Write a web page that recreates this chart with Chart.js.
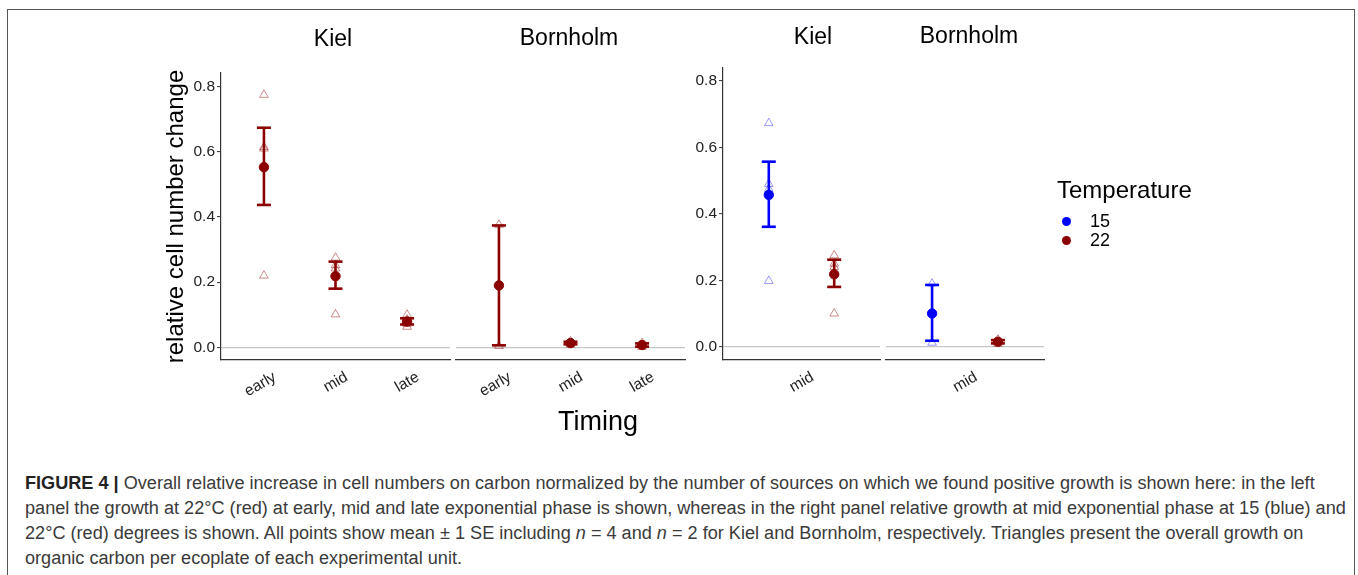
<!DOCTYPE html>
<html>
<head>
<meta charset="utf-8">
<script src="https://cdn.jsdelivr.net/npm/chart.js@4.4.1/dist/chart.umd.min.js"></script>
<style>
  body { margin: 0; background: #fff; font-family: "Liberation Sans", Arial, sans-serif; }
  #page { position: relative; width: 1358px; height: 575px; overflow: hidden; }
  #frame { position: absolute; left: 7px; top: 9px; width: 1346px; height: 620px; border: 1px solid #555; }
  canvas { position: absolute; top: 0; }
  .free { position: absolute; white-space: nowrap; color: #000; }
  .strip { font-size: 23px; line-height: 23px; transform: translate(-50%, -50%); }
  #timingTitle { left: 598px; top: 421px; font-size: 27px; transform: translate(-50%, -50%); }
  #legend { left: 1057px; top: 176px; }
  #legend .lt { font-size: 24px; line-height: 28px; margin-bottom: 8px; }
  #legend .li { position: relative; font-size: 18px; line-height: 19px; padding-left: 33px; }
  #legend .dot { position: absolute; left: 4.5px; top: 5px; width: 9px; height: 9px; border-radius: 50%; }
  .cap { position: absolute; left: 25px; font-size: 18px; line-height: 22px; color: #3a3a3a; white-space: nowrap; transform-origin: 0 50%; }
  .cap b { color: #222; }
</style>
</head>
<body>
<div id="page">
  <div id="frame"></div>
  <canvas id="kielTiming" width="315" height="410" style="left:150px"></canvas>
  <canvas id="bornTiming" width="259" height="410" style="left:441px"></canvas>
  <canvas id="kielMid" width="215" height="410" style="left:680px"></canvas>
  <canvas id="bornMid" width="188" height="410" style="left:871px"></canvas>
  <div class="free strip" style="left:333px; top:37.5px">Kiel</div>
  <div class="free strip" style="left:569px; top:36.5px">Bornholm</div>
  <div class="free strip" style="left:813px; top:36px">Kiel</div>
  <div class="free strip" style="left:969px; top:35px">Bornholm</div>
  <div class="free" id="timingTitle">Timing</div>
  <div class="free" id="legend"></div>
  <div class="cap" style="top:472px"><b>FIGURE 4 |</b> Overall relative increase in cell numbers on carbon normalized by the number of sources on which we found positive growth is shown here: in the left</div>
  <div class="cap" style="top:497px">panel the growth at 22°C (red) at early, mid and late exponential phase is shown, whereas in the right panel relative growth at mid exponential phase at 15 (blue) and</div>
  <div class="cap" style="top:522px">22°C (red) degrees is shown. All points show mean ± 1 SE including <i>n</i> = 4 and <i>n</i> = 2 for Kiel and Bornholm, respectively. Triangles present the overall growth on</div>
  <div class="cap" style="top:547px">organic carbon per ecoplate of each experimental unit.</div>
</div>
<script>
const timing = ['early', 'mid', 'late'];
const midOnly = ['mid'];
const temps = ['15', '22'];
const yTicks = [0, 0.2, 0.4, 0.6, 0.8];
const leftRange = [-0.039, 0.842];
const rightRange = [-0.040, 0.839];

// left plot: 22 °C at early / mid / late phase
const kiel22Mean = [0.553, 0.218, 0.079];
const kiel22Lo = [0.437, 0.180, 0.070];
const kiel22Hi = [0.674, 0.263, 0.089];
const kiel22Units = [[0.775, 0.615, 0.610, 0.220], [0.275, 0.252, 0.242, 0.101], [0.100, 0.085, 0.072, 0.063]];

const born22Mean = [0.190, 0.013, 0.007];
const born22Lo = [0.006, 0.009, 0.002];
const born22Hi = [0.374, 0.017, 0.012];
const born22Units = [[0.376, 0.004], [0.018, 0.008], [0.013, 0.001]];

// right plot: mid phase, one entry per temperature (15, 22)
const kielMidMean = [0.457, 0.218];
const kielMidLo = [0.361, 0.180];
const kielMidHi = [0.557, 0.262];
const kielMidUnits = [[0.673, 0.490, 0.475, 0.198], [0.275, 0.250, 0.240, 0.100]];

const bornMidMean = [0.100, 0.015];
const bornMidLo = [0.018, 0.010];
const bornMidHi = [0.186, 0.020];
const bornMidUnits = [[0.190, 0.012], [0.021, 0.009]];

const colors = { '15': '#0000ff', '22': '#8b0000' };
const faded = { '15': 'rgba(0,0,255,0.4)', '22': 'rgba(139,0,0,0.45)' };
const dodge = [-0.25, 0.25];
const font = 'Liberation Sans, Arial, sans-serif';

function groupDatasets(x, temp, mean, lo, hi, units) {
    return [
        {
            data: units.map(v => ({x: x, y: v})),
            pointStyle: 'triangle', pointRadius: 5,
            borderColor: faded[temp], backgroundColor: 'rgba(0,0,0,0)', borderWidth: 1,
            order: 3
        },
        {
            data: [{x: x, y: lo}, {x: x, y: hi}],
            showLine: true, borderColor: colors[temp], borderWidth: 2.6,
            pointStyle: 'line', pointRadius: 7, pointBorderWidth: 2.6, pointBorderColor: colors[temp],
            order: 2
        },
        {
            data: [{x: x, y: mean}],
            pointRadius: 4.7, backgroundColor: colors[temp], borderColor: colors[temp], borderWidth: 1,
            order: 1
        }
    ];
}

function makePanel(id, o) {
    new Chart(document.getElementById(id), {
        type: 'scatter',
        data: { datasets: o.datasets },
        options: {
            responsive: false,
            animation: false,
            events: [],
            layout: { padding: o.padding },
            plugins: {
                legend: { display: false },
                tooltip: { enabled: false }
            },
            scales: {
                x: {
                    type: 'linear', min: 0.4, max: o.cats.length + 0.6,
                    afterBuildTicks: s => { s.ticks = o.cats.map((c, i) => ({value: i + 1})); },
                    afterFit: s => { s.height = 50; },
                    ticks: {
                        autoSkip: false, minRotation: 30, maxRotation: 30,
                        labelOffset: 11, padding: 8, color: '#222',
                        font: { family: font, size: 15.5 },
                        callback: v => o.cats[Math.round(v) - 1]
                    },
                    grid: { display: false, drawTicks: false },
                    border: { display: true, color: '#333', width: 1.2 }
                },
                y: {
                    min: o.range[0], max: o.range[1],
                    afterBuildTicks: s => { s.ticks = yTicks.map(v => ({value: v})); },
                    afterFit: s => { s.width = o.yWidth; },
                    ticks: {
                        display: o.showY, padding: 2, color: '#222',
                        font: { family: font, size: 15.5 },
                        callback: v => v.toFixed(1)
                    },
                    grid: {
                        color: c => (c.tick && c.tick.value === 0) ? '#c6c6c6' : 'rgba(0,0,0,0)',
                        lineWidth: 1.2, drawTicks: o.showY, tickLength: 4, tickColor: '#333', tickWidth: 1
                    },
                    border: { display: o.showY, color: '#333', width: 1.2 },
                    title: {
                        display: !!o.yTitle, text: o.yTitle, color: '#000',
                        font: { family: font, size: 24 }, padding: { top: 3, bottom: 0 }
                    }
                }
            }
        }
    });
}

function timingSets(mean, lo, hi, units) {
    return timing.flatMap((c, i) => groupDatasets(i + 1, '22', mean[i], lo[i], hi[i], units[i]));
}
function midSets(mean, lo, hi, units) {
    return temps.flatMap((t, j) => groupDatasets(1 + dodge[j], t, mean[j], lo[j], hi[j], units[j]));
}

makePanel('kielTiming', {
    cats: timing, range: leftRange, showY: true, yWidth: 62,
    yTitle: 'relative cell number change',
    padding: { left: 9, right: 15, top: 73, bottom: 0 },
    datasets: timingSets(kiel22Mean, kiel22Lo, kiel22Hi, kiel22Units)
});
makePanel('bornTiming', {
    cats: timing, range: leftRange, showY: false, yWidth: 0,
    padding: { left: 15, right: 15, top: 73, bottom: 0 },
    datasets: timingSets(born22Mean, born22Lo, born22Hi, born22Units)
});
makePanel('kielMid', {
    cats: midOnly, range: rightRange, showY: true, yWidth: 43,
    padding: { left: 0, right: 15, top: 68, bottom: 0 },
    datasets: midSets(kielMidMean, kielMidLo, kielMidHi, kielMidUnits)
});
makePanel('bornMid', {
    cats: midOnly, range: rightRange, showY: false, yWidth: 0,
    padding: { left: 15, right: 15, top: 68, bottom: 0 },
    datasets: midSets(bornMidMean, bornMidLo, bornMidHi, bornMidUnits)
});

// legend
const legend = document.getElementById('legend');
let html = '<div class="lt">Temperature</div>';
temps.forEach(t => {
    html += '<div class="li"><span class="dot" style="background:' + colors[t] + '"></span>' + t + '</div>';
});
legend.innerHTML = html;

// squeeze caption to the width of the printed lines
const caps = document.querySelectorAll('.cap');
const k = 1290 / caps[0].scrollWidth;
caps.forEach(el => { el.style.transform = 'scaleX(' + k + ')'; });
</script>
</body>
</html>
